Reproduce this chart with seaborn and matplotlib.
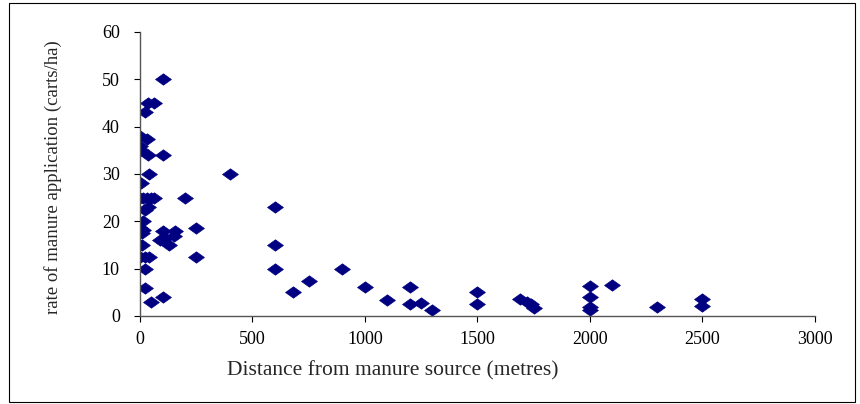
import matplotlib
matplotlib.use("Agg")
import matplotlib.pyplot as plt
import seaborn as sns
import pandas as pd
from matplotlib.patches import Rectangle

# Distance from manure source (metres) and application rate (carts/ha)
distance = [100, 35, 60, 20, 0, 30, 0, 5, 35, 100,
            40, 5, 400, 0, 15, 30, 50, 60, 200, 600,
            35, 20, 15, 15, 0, 10, 100, 155, 150, 250,
            0, 90, 110, 130, 10, 0, 600, 0, 20, 40,
            250, 20, 600, 20, 100, 50, 680, 750, 900, 1000,
            1100, 1200, 1200, 1250, 1300, 1500, 1500, 1690, 1720, 1740,
            1750, 2000, 2000, 2000, 2000, 2100, 2300, 2500, 2500]
rate = [50, 45, 45, 43, 38, 37.5, 36, 35, 34, 34,
        30, 28.2, 30, 25, 25, 25, 25, 25, 25, 23,
        23, 22.5, 20, 18.2, 18.5, 17.5, 18, 18, 17, 18.5,
        15, 16, 16.5, 15, 15, 12.5, 15, 12.5, 12.5, 12.5,
        12.5, 10, 10, 6, 4, 3, 5, 7.5, 10, 6.2,
        3.4, 6.2, 2.5, 2.8, 1.2, 5, 2.5, 3.5, 3, 2.5,
        1.6, 6.3, 4, 2, 1.2, 6.6, 1.8, 3.5, 2.1]

x_ticks = [0, 500, 1000, 1500, 2000, 2500, 3000]
y_ticks = [0, 10, 20, 30, 40, 50, 60]

df = pd.DataFrame({"distance": distance, "rate": rate})

sns.set_style("white")
plt.rcParams["font.family"] = ["Liberation Serif", "DejaVu Serif"]

fig = plt.figure(figsize=(8.6, 4.04), dpi=100)
ax = fig.add_axes([140 / 860, 88 / 404, 675 / 860, 284 / 404])

diamond = [(-1, 0), (0, 0.72), (1, 0), (0, -0.72), (-1, 0)]
sns.scatterplot(data=df, x="distance", y="rate", marker=diamond, s=130,
                color="#000080", edgecolor="#000080", linewidth=0.5, ax=ax)

ax.set_xlim(0, 3000)
ax.set_ylim(0, 60)
ax.set_xticks(x_ticks)
ax.set_yticks(y_ticks)
ax.tick_params(axis="both", direction="out", length=4.5, width=0.8,
               labelsize=13, colors="black", bottom=True, left=True)
ax.tick_params(axis="x", pad=6)
ax.tick_params(axis="y", pad=10)
for side in ["top", "right"]:
    ax.spines[side].set_visible(False)
for side in ["left", "bottom"]:
    ax.spines[side].set_color("#555555")
    ax.spines[side].set_linewidth(1.0)

ax.set_xlabel("Distance from manure source (metres)", fontsize=15.5)
ax.xaxis.set_label_coords(0.375, -0.158)
ax.set_ylabel("rate of manure application (carts/ha)", fontsize=13.5)
ax.yaxis.set_label_coords(-0.1156, 0.49)

fig.patches.append(Rectangle((9 / 860, 2 / 404), 846 / 860, 399 / 404,
                             transform=fig.transFigure, fill=False,
                             edgecolor="black", linewidth=0.8))

fig.savefig("out.png", dpi=100)
